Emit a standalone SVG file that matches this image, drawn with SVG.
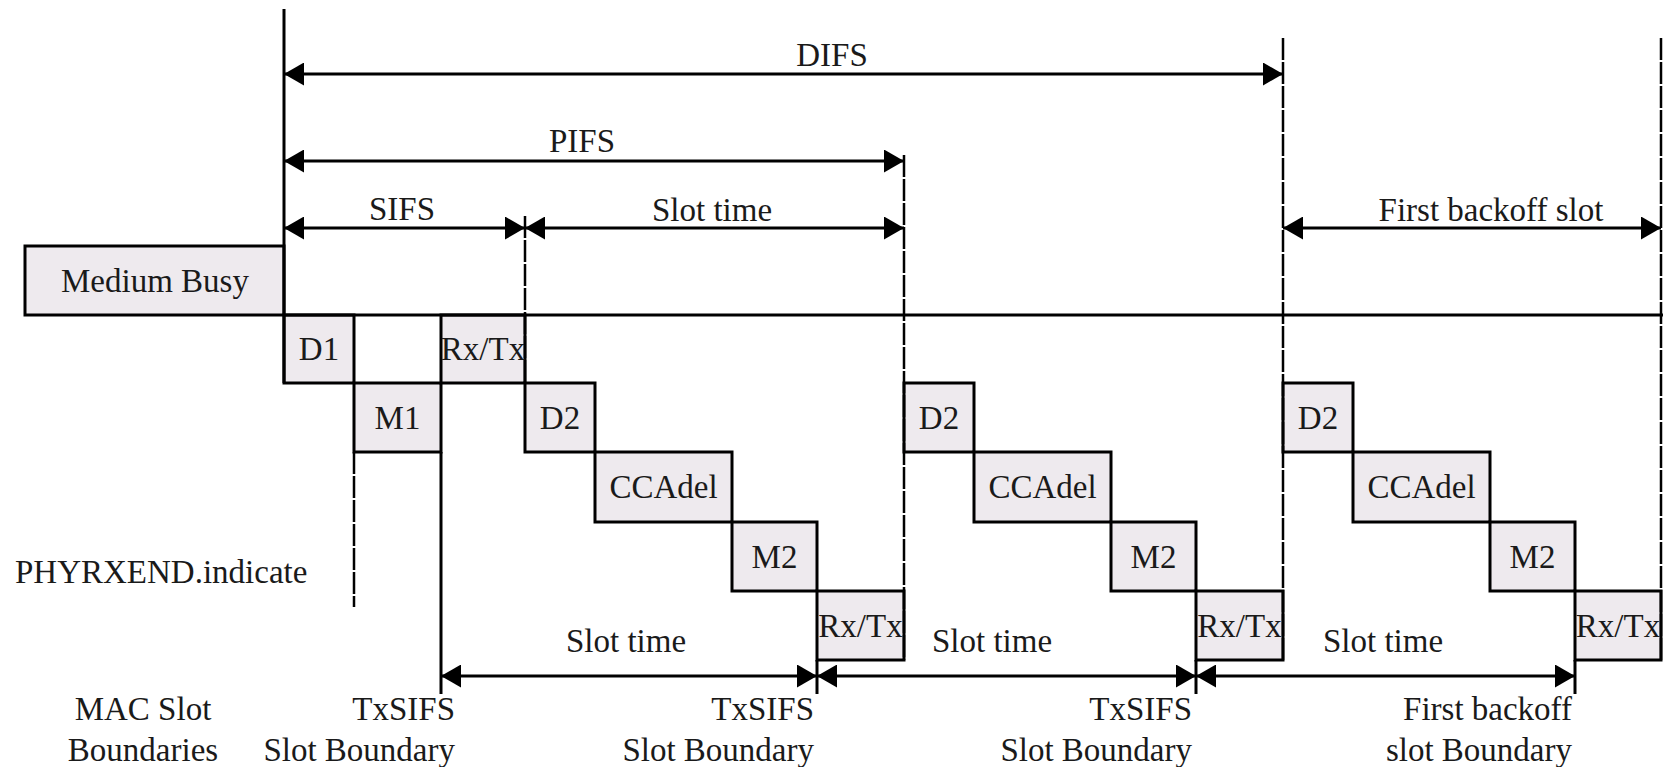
<svg xmlns="http://www.w3.org/2000/svg" width="1669" height="767" viewBox="0 0 1669 767">
<defs>
<marker id="ah" markerUnits="userSpaceOnUse" markerWidth="20" markerHeight="23" refX="20" refY="11.5" orient="auto-start-reverse" viewBox="0 0 20 23"><path d="M0,0 L20,11.5 L0,23 z" fill="#000"/></marker>
</defs>
<style>
.box{fill:#EEEAEE;stroke:#000;stroke-width:3}
.t{font-family:"Liberation Serif","Times New Roman",serif;font-size:33px;fill:#1a1a1a}
.c{text-anchor:middle}
.e{text-anchor:end}
.ln{stroke:#000;stroke-width:3;fill:none}
.dl{stroke:#000;stroke-width:2.5;fill:none;stroke-dasharray:22 2}
.arr{stroke:#000;stroke-width:3;fill:none;marker-start:url(#ah);marker-end:url(#ah)}
</style>
<rect width="1669" height="767" fill="#fff"/>
<g id="medium-busy"><rect class="box" x="25" y="246" width="259" height="69"/><text class="t c" x="155" y="292">Medium Busy</text></g>
<g id="d1"><rect class="box" x="284" y="315" width="70" height="68"/><text class="t c" x="319" y="360">D1</text></g>
<g id="m1"><rect class="box" x="354" y="383" width="87" height="69"/><text class="t c" x="397.5" y="429">M1</text></g>
<g id="rxtx0"><rect class="box" x="441" y="315" width="84" height="68"/><text class="t c" x="483" y="360">Rx/Tx</text></g>

<g id="d2-a"><rect class="box" x="525" y="383" width="70" height="69"/><text class="t c" x="560" y="429">D2</text></g>
<g id="ccadel-a"><rect class="box" x="595" y="452" width="137" height="70"/><text class="t c" x="663.5" y="498">CCAdel</text></g>
<g id="m2-a"><rect class="box" x="732" y="522" width="85" height="69"/><text class="t c" x="774.5" y="568">M2</text></g>
<g id="rxtx-a"><rect class="box" x="817" y="591" width="87" height="69"/><text class="t c" x="860.5" y="637">Rx/Tx</text></g>

<g id="d2-b"><rect class="box" x="904" y="383" width="70" height="69"/><text class="t c" x="939" y="429">D2</text></g>
<g id="ccadel-b"><rect class="box" x="974" y="452" width="137" height="70"/><text class="t c" x="1042.5" y="498">CCAdel</text></g>
<g id="m2-b"><rect class="box" x="1111" y="522" width="85" height="69"/><text class="t c" x="1153.5" y="568">M2</text></g>
<g id="rxtx-b"><rect class="box" x="1196" y="591" width="87" height="69"/><text class="t c" x="1239.5" y="637">Rx/Tx</text></g>

<g id="d2-c"><rect class="box" x="1283" y="383" width="70" height="69"/><text class="t c" x="1318" y="429">D2</text></g>
<g id="ccadel-c"><rect class="box" x="1353" y="452" width="137" height="70"/><text class="t c" x="1421.5" y="498">CCAdel</text></g>
<g id="m2-c"><rect class="box" x="1490" y="522" width="85" height="69"/><text class="t c" x="1532.5" y="568">M2</text></g>
<g id="rxtx-c"><rect class="box" x="1575" y="591" width="86" height="69"/><text class="t c" x="1618" y="637">Rx/Tx</text></g>

<g id="connectors">
<line class="ln" x1="284" y1="9" x2="284" y2="383"/>
<line class="ln" x1="284" y1="315" x2="1663" y2="315"/>
<line class="dl" x1="525" y1="216" x2="525" y2="383"/>
<line class="dl" x1="904" y1="155" x2="904" y2="660"/>
<line class="dl" x1="1283" y1="38" x2="1283" y2="660"/>
<line class="dl" x1="1661" y1="38" x2="1661" y2="660"/>
<line class="dl" x1="354" y1="452" x2="354" y2="607"/>
<line class="ln" x1="441" y1="452" x2="441" y2="694"/>
<line class="ln" x1="817" y1="660" x2="817" y2="694"/>
<line class="ln" x1="1196" y1="660" x2="1196" y2="694"/>
<line class="ln" x1="1575" y1="660" x2="1575" y2="694"/>
<line class="arr" x1="284" y1="74" x2="1283" y2="74"/>
<line class="arr" x1="284" y1="161" x2="904" y2="161"/>
<line class="arr" x1="284" y1="228" x2="525" y2="228"/>
<line class="arr" x1="525" y1="228" x2="904" y2="228"/>
<line class="arr" x1="1283" y1="228" x2="1661" y2="228"/>
<line class="arr" x1="441" y1="676" x2="817" y2="676"/>
<line class="arr" x1="817" y1="676" x2="1196" y2="676"/>
<line class="arr" x1="1196" y1="676" x2="1575" y2="676"/>
</g>

<g id="labels">
<text class="t c" x="832" y="66">DIFS</text>
<text class="t c" x="582" y="152">PIFS</text>
<text class="t c" x="402" y="220">SIFS</text>
<text class="t c" x="712" y="221">Slot time</text>
<text class="t c" x="1491" y="221">First backoff slot</text>
<text class="t" x="15" y="583">PHYRXEND.indicate</text>
<text class="t c" x="626" y="652">Slot time</text>
<text class="t c" x="992" y="652">Slot time</text>
<text class="t c" x="1383" y="652">Slot time</text>
<text class="t c" x="143" y="720">MAC Slot</text>
<text class="t c" x="143" y="761">Boundaries</text>
<text class="t e" x="455" y="720">TxSIFS</text>
<text class="t e" x="455" y="761">Slot Boundary</text>
<text class="t e" x="814" y="720">TxSIFS</text>
<text class="t e" x="814" y="761">Slot Boundary</text>
<text class="t e" x="1192" y="720">TxSIFS</text>
<text class="t e" x="1192" y="761">Slot Boundary</text>
<text class="t e" x="1572" y="720">First backoff</text>
<text class="t e" x="1572" y="761">slot Boundary</text>
</g>
</svg>
